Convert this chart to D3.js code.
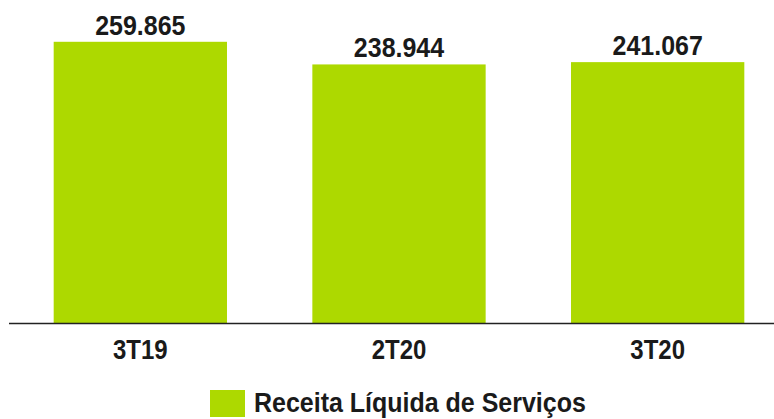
<!DOCTYPE html>
<html>
<head>
<meta charset="utf-8">
<script src="https://cdn.jsdelivr.net/npm/d3@7"></script>
<style>
  body { margin: 0; background: #fff; }
  text { font-family: "Liberation Sans", Arial, sans-serif; font-weight: bold; fill: #1a1a1a; }
</style>
</head>
<body>
<div id="chart"></div>
<script>
var categories = ["3T19", "2T20", "3T20"];
var values = [259.865, 238.944, 241.067];
var valueLabels = ["259.865", "238.944", "241.067"];
var seriesName = "Receita Líquida de Serviços";

var width = 774;
var height = 419;
var barColor = "#add900";
var stretch = 1.13; // text in the source looks a bit tall

var svg = d3.select("#chart")
  .append("svg")
  .attr("width", width)
  .attr("height", height);

var x = d3.scaleBand()
  .domain(categories)
  .range([11, 787])
  .paddingInner(0.33)
  .paddingOuter(0.165);

var y = d3.scaleLinear()
  .domain([0, 280])
  .range([323, 20]);

// bars
svg.append("g")
  .selectAll("rect")
  .data(values)
  .enter().append("rect")
  .attr("x", function (d, i) { return x(categories[i]); })
  .attr("y", function (d) { return y(d); })
  .attr("width", x.bandwidth())
  .attr("height", function (d) { return y(0) - y(d); })
  .attr("fill", barColor);

// value labels
svg.append("g")
  .selectAll("text")
  .data(values)
  .enter().append("text")
  .attr("transform", function (d, i) {
    return "translate(" + (x(categories[i]) + x.bandwidth() / 2) + "," + (y(d) - 7) + ") scale(1," + stretch + ")";
  })
  .attr("text-anchor", "middle")
  .style("font-size", "25px")
  .text(function (d, i) { return valueLabels[i]; });

// x axis
var xAxis = svg.append("g")
  .attr("transform", "translate(0," + y(0) + ")")
  .call(d3.axisBottom(x).tickSize(0).tickPadding(0));

xAxis.select(".domain").remove();
xAxis.append("line")
  .attr("x1", 9)
  .attr("x2", width)
  .attr("y1", 0.5)
  .attr("y2", 0.5)
  .attr("stroke", "#222")
  .attr("stroke-width", 1.5);

xAxis.selectAll(".tick text")
  .attr("y", null)
  .attr("dy", null)
  .attr("transform", "translate(0,36) scale(1,1.18)")
  .style("font-size", "24px")
  .style("font-family", "'Liberation Sans', Arial, sans-serif")
  .style("font-weight", "bold")
  .attr("fill", "#1a1a1a");

// legend
var legend = svg.append("g")
  .attr("transform", "translate(210, 390)");

legend.append("rect")
  .attr("width", 35)
  .attr("height", 27)
  .attr("fill", barColor);

legend.append("text")
  .attr("transform", "translate(44,22) scale(1," + stretch + ")")
  .style("font-size", "25px")
  .text(seriesName);
</script>
</body>
</html>
